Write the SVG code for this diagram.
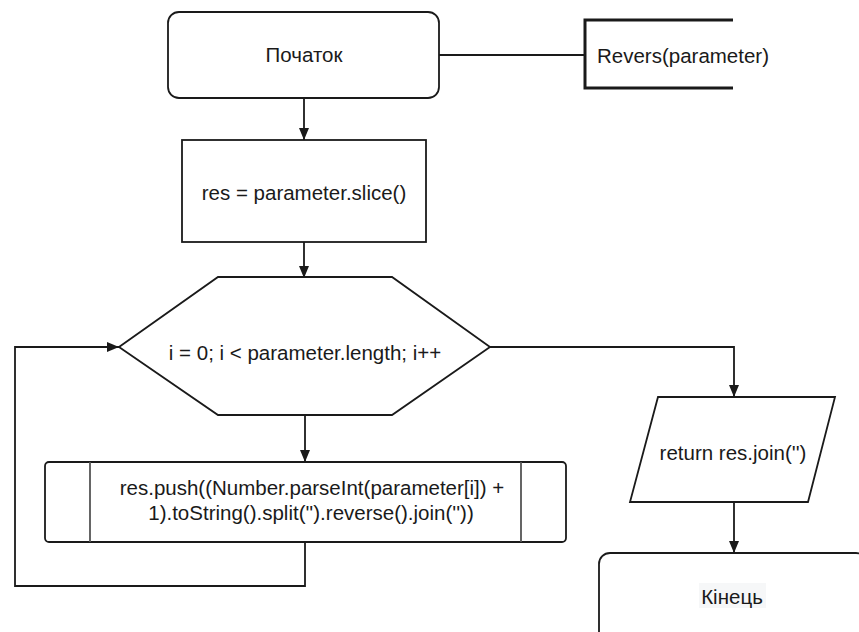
<svg xmlns="http://www.w3.org/2000/svg" width="859" height="632" viewBox="0 0 859 632">
  <style>
    .shape { fill: #ffffff; stroke: #1a1a1a; stroke-width: 1.8; }
    .inner { stroke: #555555; stroke-width: 1.8; fill: none; }
    .edge { fill: none; stroke: #1a1a1a; stroke-width: 1.8; }
    .label { font-family: "Liberation Sans", Arial, sans-serif; font-size: 20.5px; fill: #1a1a1a; }
    .mid { text-anchor: middle; }
  </style>
  <defs>
    <marker id="arrow" viewBox="0 0 12 10" refX="12" refY="5" markerWidth="12" markerHeight="10" markerUnits="userSpaceOnUse" orient="auto">
      <path d="M0,0 L12,5 L0,10 Z" fill="#1a1a1a"/>
    </marker>
  </defs>
  <rect width="859" height="632" fill="#ffffff"/>

  <!-- connectors -->
  <g id="connectors">
    <path class="edge" d="M439,55 H585"/>
    <path class="edge" d="M304,98 V140" marker-end="url(#arrow)"/>
    <path class="edge" d="M304,240 V278" marker-end="url(#arrow)"/>
    <path class="edge" d="M305,415 V462" marker-end="url(#arrow)"/>
    <path class="edge" d="M305,542 V586 H15 V347 H119" marker-end="url(#arrow)"/>
    <path class="edge" d="M490,347 H734 V397" marker-end="url(#arrow)"/>
    <path class="edge" d="M734,502 V553" marker-end="url(#arrow)"/>
  </g>

  <!-- start terminator -->
  <g id="start">
    <rect class="shape" x="168" y="12" width="271" height="86" rx="11" ry="11"/>
    <text class="label mid" x="304" y="62">Початок</text>
  </g>

  <!-- annotation bracket -->
  <g id="annotation">
    <path d="M733,20 H585 V88 H733" fill="none" stroke="#1a1a1a" stroke-width="3"/>
    <text class="label" x="597" y="63">Revers(parameter)</text>
  </g>

  <!-- copy of the input -->
  <g id="init">
    <rect class="shape" x="182" y="140" width="244" height="102"/>
    <text class="label mid" x="304" y="200">res = parameter.slice()</text>
  </g>

  <!-- loop header -->
  <g id="loop">
    <polygon class="shape" points="119,347 218,277 392,277 490,347 392,415 218,415"/>
    <text class="label mid" x="305" y="360">i = 0; i &lt; parameter.length; i++</text>
  </g>

  <!-- loop body subroutine -->
  <g id="body">
    <rect class="shape" x="45" y="462" width="521" height="80" rx="4" ry="4"/>
    <line class="inner" x1="90" y1="462" x2="90" y2="542"/>
    <line class="inner" x1="521" y1="462" x2="521" y2="542"/>
    <text class="label mid" x="312" y="495">res.push((Number.parseInt(parameter[i]) +</text>
    <text class="label mid" x="311" y="520">1).toString().split('').reverse().join(''))</text>
  </g>

  <!-- output -->
  <g id="output">
    <polygon class="shape" points="658,397 835,397 808,502 630,502"/>
    <text class="label mid" x="733" y="460">return res.join('')</text>
  </g>

  <!-- end terminator -->
  <g id="end">
    <rect class="shape" x="599" y="553" width="268" height="100" rx="11" ry="11"/>
    <rect x="699" y="583" width="67" height="25" fill="#f6f7f8"/>
    <text class="label mid" x="732" y="604">Кінець</text>
  </g>
</svg>
